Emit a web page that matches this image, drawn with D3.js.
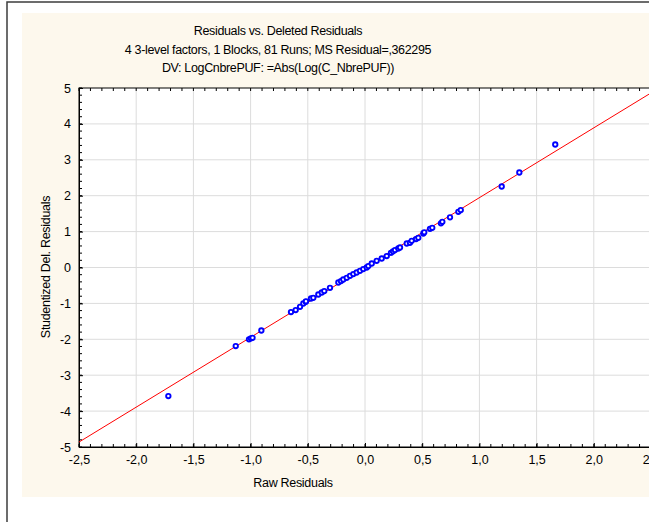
<!DOCTYPE html>
<html>
<head>
<meta charset="utf-8">
<script src="https://cdn.jsdelivr.net/npm/d3@7"></script>
<style>
  body { margin: 0; background: #ffffff; }
  svg { display: block; font-family: "Liberation Sans", Arial, sans-serif; }
</style>
</head>
<body>
<svg id="chart" width="649" height="522"></svg>
<script>
// Raw residuals (x) and studentized deleted residuals (y)
const rawResiduals = [
  -1.719, -1.130, -1.014, -0.997, -0.983, -0.906, -0.647, -0.606, -0.568, -0.539,
  -0.518, -0.516, -0.472, -0.452, -0.408, -0.378, -0.356, -0.306, -0.233, -0.210,
  -0.190, -0.160, -0.131, -0.102, -0.073, -0.044, -0.015, 0.015, 0.029, 0.059,
  0.102, 0.146, 0.190, 0.227, 0.245, 0.262, 0.291, 0.306, 0.365, 0.393,
  0.408, 0.446, 0.466, 0.510, 0.518, 0.568, 0.588, 0.664, 0.676, 0.743,
  0.816, 0.837, 1.195, 1.349, 1.663
];
const deletedResiduals = [
  -3.582, -2.189, -2.000, -1.972, -1.958, -1.755, -1.242, -1.187, -1.095, -1.003,
  -0.955, -0.941, -0.864, -0.844, -0.752, -0.696, -0.657, -0.565, -0.418, -0.379,
  -0.334, -0.287, -0.231, -0.184, -0.139, -0.092, -0.045, 0.000, 0.039, 0.111,
  0.187, 0.251, 0.318, 0.409, 0.451, 0.485, 0.529, 0.557, 0.669, 0.688,
  0.744, 0.791, 0.827, 0.947, 0.981, 1.078, 1.106, 1.231, 1.273, 1.398,
  1.552, 1.599, 2.256, 2.646, 3.426
];

// fitted line y = slope * x + intercept
const fitSlope = 1.945;
const fitIntercept = 0.0;

const xTicks = [-2.5, -2.0, -1.5, -1.0, -0.5, 0.0, 0.5, 1.0, 1.5, 2.0, 2.5];
const yTicks = [-5, -4, -3, -2, -1, 0, 1, 2, 3, 4, 5];

const titleLines = [
  "Residuals vs. Deleted Residuals",
  "4 3-level factors, 1 Blocks, 81 Runs; MS Residual=,362295",
  "DV: LogCnbrePUF: =Abs(Log(C_NbrePUF))"
];

const svg = d3.select("#chart");

// outer frame and beige panel
svg.append("rect")
    .attr("x", 7).attr("y", 2)
    .attr("width", 800).attr("height", 700)
    .attr("fill", "#ffffff")
    .attr("stroke", "#3c3c3c")
    .attr("stroke-width", 1.5);

svg.append("rect")
    .attr("x", 22).attr("y", 13)
    .attr("width", 700).attr("height", 484)
    .attr("fill", "#fdf8ed");

// plot area
const plotLeft = 79, plotTop = 88, plotBottom = 447, plotRight = 651;

const x = d3.scaleLinear().domain([-2.5, 2.5]).range([plotLeft, plotRight]);
const y = d3.scaleLinear().domain([-5, 5]).range([plotBottom, plotTop]);

svg.append("rect")
    .attr("x", plotLeft).attr("y", plotTop)
    .attr("width", plotRight - plotLeft).attr("height", plotBottom - plotTop)
    .attr("fill", "#ffffff");

// grid lines
svg.append("g").selectAll("line")
    .data(xTicks.slice(1, -1))
    .enter().append("line")
    .attr("x1", d => x(d)).attr("x2", d => x(d))
    .attr("y1", plotTop).attr("y2", plotBottom)
    .attr("stroke", "#dcdcdc")
    .attr("stroke-width", 1);

svg.append("g").selectAll("line")
    .data(yTicks.slice(1, -1))
    .enter().append("line")
    .attr("x1", plotLeft).attr("x2", plotRight)
    .attr("y1", d => y(d)).attr("y2", d => y(d))
    .attr("stroke", "#dcdcdc")
    .attr("stroke-width", 1);

// axes (ticks pointing inward)
const fmt = d => d3.format(".1f")(d).replace(".", ",").replace("−", "-");

const xAxis = svg.append("g")
    .attr("transform", "translate(0," + plotBottom + ")")
    .call(d3.axisBottom(x).tickValues(xTicks).tickSize(-4).tickPadding(8).tickFormat(fmt));

const xMinor = d3.range(-25, 26).map(d => d / 10);
svg.append("g").selectAll("line")
    .data(xMinor)
    .enter().append("line")
    .attr("x1", d => x(d)).attr("x2", d => x(d))
    .attr("y1", plotBottom).attr("y2", plotBottom - 3)
    .attr("stroke", "#000");
svg.append("g").selectAll("line")
    .data(xMinor)
    .enter().append("line")
    .attr("x1", d => x(d)).attr("x2", d => x(d))
    .attr("y1", plotTop).attr("y2", plotTop + 3)
    .attr("stroke", "#000");

const yAxis = svg.append("g")
    .attr("transform", "translate(" + plotLeft + ",0)")
    .call(d3.axisLeft(y).tickValues(yTicks).tickSize(-4).tickPadding(8).tickFormat(d => String(d).replace("−", "-")));

const yMinor = d3.range(-25, 26).map(d => d / 5);
svg.append("g").selectAll("line")
    .data(yMinor)
    .enter().append("line")
    .attr("x1", plotLeft).attr("x2", plotLeft + 3)
    .attr("y1", d => y(d)).attr("y2", d => y(d))
    .attr("stroke", "#000");

[xAxis, yAxis].forEach(function(a) {
    a.select(".domain").attr("stroke", "#000");
    a.selectAll("text")
        .attr("fill", "#000")
        .style("font-size", "12.5px")
        .style("font-family", "'Liberation Sans', Arial, sans-serif");
});

// plot frame
svg.append("rect")
    .attr("x", plotLeft).attr("y", plotTop)
    .attr("width", plotRight - plotLeft).attr("height", plotBottom - plotTop)
    .attr("fill", "none")
    .attr("stroke", "#000")
    .attr("stroke-width", 1);

// fitted line, clipped to plot area
svg.append("clipPath").attr("id", "clip")
    .append("rect")
    .attr("x", plotLeft).attr("y", plotTop)
    .attr("width", plotRight - plotLeft).attr("height", plotBottom - plotTop);

const lineX = x.domain();
svg.append("line")
    .attr("clip-path", "url(#clip)")
    .attr("x1", x(lineX[0])).attr("y1", y(fitSlope * lineX[0] + fitIntercept))
    .attr("x2", x(lineX[1])).attr("y2", y(fitSlope * lineX[1] + fitIntercept))
    .attr("stroke", "#ff0000")
    .attr("stroke-width", 1);

// points
const points = rawResiduals.map((d, i) => ({ x: d, y: deletedResiduals[i] }));
svg.append("g").selectAll("circle")
    .data(points)
    .enter().append("circle")
    .attr("cx", d => x(d.x))
    .attr("cy", d => y(d.y))
    .attr("r", 2.2)
    .attr("fill", "#ffffff")
    .attr("stroke", "#0000ff")
    .attr("stroke-width", 1.9);

// titles
svg.append("g").selectAll("text")
    .data(titleLines)
    .enter().append("text")
    .attr("x", 278)
    .attr("y", (d, i) => 35 + i * 18.5)
    .attr("text-anchor", "middle")
    .style("font-size", "12.5px")
    .style("letter-spacing", "-0.35px")
    .attr("fill", "#000")
    .text(d => d);

// axis labels
svg.append("text")
    .attr("x", 293).attr("y", 487)
    .attr("text-anchor", "middle")
    .style("font-size", "12.5px")
    .style("letter-spacing", "-0.3px")
    .text("Raw Residuals");

svg.append("text")
    .attr("transform", "translate(50,267) rotate(-90)")
    .attr("text-anchor", "middle")
    .style("font-size", "12.5px")
    .style("letter-spacing", "-0.3px")
    .text("Studentized Del. Residuals");
</script>
</body>
</html>
